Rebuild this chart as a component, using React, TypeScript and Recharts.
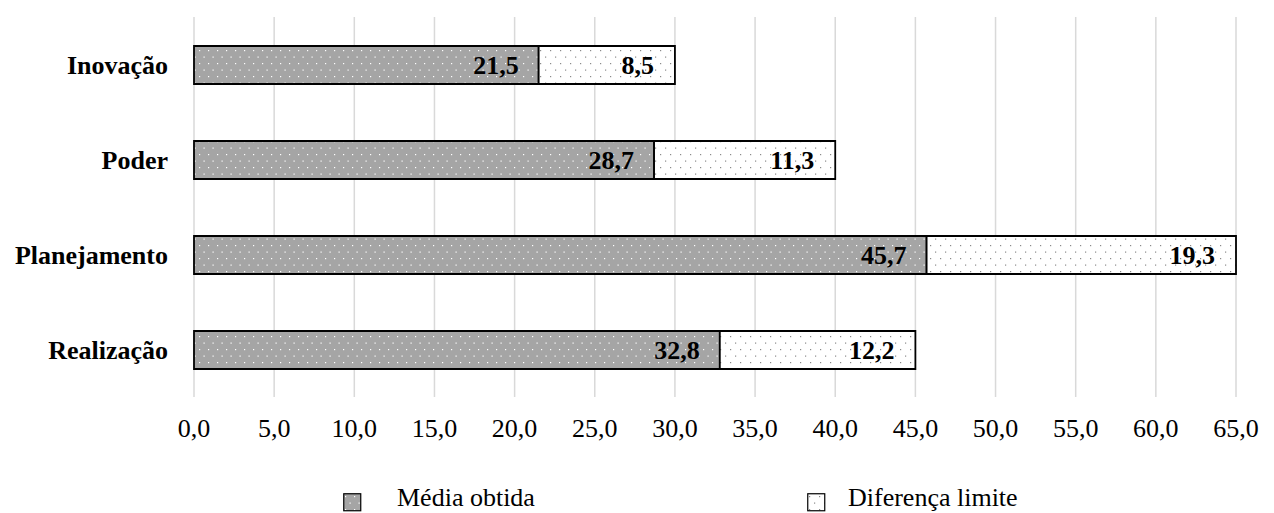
import { Bar, BarChart, CartesianGrid, LabelList, Legend, XAxis, YAxis } from "recharts";

const categories = ["Inovação", "Poder", "Planejamento", "Realização"];
const mediaObtida = [21.5, 28.7, 45.7, 32.8];
const diferencaLimite = [8.5, 11.3, 19.3, 12.2];
const xTicks = [0, 5, 10, 15, 20, 25, 30, 35, 40, 45, 50, 55, 60, 65];

const data = categories.map((name, i) => ({
  name,
  media: mediaObtida[i],
  diferenca: diferencaLimite[i]
}));

const FONT = "'Liberation Serif', 'Times New Roman', serif";
const fmt = (v: number) => v.toFixed(1).replace(".", ",");

function Patterns({ suffix }: { suffix: string }) {
  return (
    <defs>
      <pattern id={`grayDots${suffix}`} width="9" height="13" patternUnits="userSpaceOnUse">
        <rect width="9" height="13" fill="#a5a5a5" />
        <rect x="2" y="3" width="1.2" height="1.2" fill="#ffffff" />
        <rect x="6.5" y="9.5" width="1.2" height="1.2" fill="#ffffff" />
      </pattern>
      <pattern id={`whiteDots${suffix}`} width="10" height="13" patternUnits="userSpaceOnUse">
        <rect width="10" height="13" fill="#ffffff" />
        <rect x="2" y="3" width="1.2" height="1.2" fill="#8a8a8a" />
        <rect x="7" y="9.5" width="1.2" height="1.2" fill="#8a8a8a" />
      </pattern>
    </defs>
  );
}

function LegendIcon({ fill }: { fill: string }) {
  return (
    <svg width="19" height="19" style={{ display: "block" }}>
      <Patterns suffix="Lg" />
      <rect x="0.75" y="0.75" width="17" height="17" fill={fill} stroke="#000" strokeWidth="1.2" />
    </svg>
  );
}

function CustomLegend() {
  return (
    <div style={{ position: "relative", height: 30, width: 1258, fontFamily: FONT, fontSize: 26 }}>
      <div style={{ position: "absolute", left: 335, top: 10 }}>
        <LegendIcon fill="url(#grayDotsLg)" />
      </div>
      <div style={{ position: "absolute", left: 389, top: 0, lineHeight: "30px" }}>Média obtida</div>
      <div style={{ position: "absolute", left: 799, top: 10 }}>
        <LegendIcon fill="url(#whiteDotsLg)" />
      </div>
      <div style={{ position: "absolute", left: 840, top: 0, lineHeight: "30px" }}>Diferença limite</div>
    </div>
  );
}

const labelStyle = { fontFamily: FONT, fontSize: 26, fontWeight: "bold", fill: "#000" };

export default function App() {
  return (
    <BarChart
      width={1258}
      height={505}
      data={data}
      layout="vertical"
      margin={{ top: 9, right: 30, left: 0, bottom: 0 }}
    >
      <Patterns suffix="" />
      <CartesianGrid horizontal={false} stroke="#d9d9d9" strokeWidth={1.5} />
      <XAxis
        type="number"
        domain={[0, 65]}
        ticks={xTicks}
        tickFormatter={fmt}
        axisLine={false}
        tickLine={false}
        tickSize={0}
        tickMargin={22}
        height={86}
        tick={{ fontFamily: FONT, fontSize: 26, fill: "#000" }}
      />
      <YAxis
        type="category"
        dataKey="name"
        width={186}
        axisLine={false}
        tickLine={false}
        tickSize={0}
        tickMargin={26}
        tick={{ fontFamily: FONT, fontSize: 26, fontWeight: "bold", fill: "#000" }}
      />
      <Legend verticalAlign="bottom" content={() => <CustomLegend />} />
      <Bar
        dataKey="media"
        name="Média obtida"
        stackId="a"
        barSize={38}
        fill="url(#grayDots)"
        stroke="#000"
        strokeWidth={1.8}
        isAnimationActive={false}
      >
        <LabelList
          dataKey="media"
          position="insideRight"
          offset={20}
          formatter={(v: any) => fmt(Number(v))}
          style={labelStyle}
        />
      </Bar>
      <Bar
        dataKey="diferenca"
        name="Diferença limite"
        stackId="a"
        barSize={38}
        fill="url(#whiteDots)"
        stroke="#000"
        strokeWidth={1.8}
        isAnimationActive={false}
      >
        <LabelList
          dataKey="diferenca"
          position="insideRight"
          offset={21}
          formatter={(v: any) => fmt(Number(v))}
          style={labelStyle}
        />
      </Bar>
    </BarChart>
  );
}
